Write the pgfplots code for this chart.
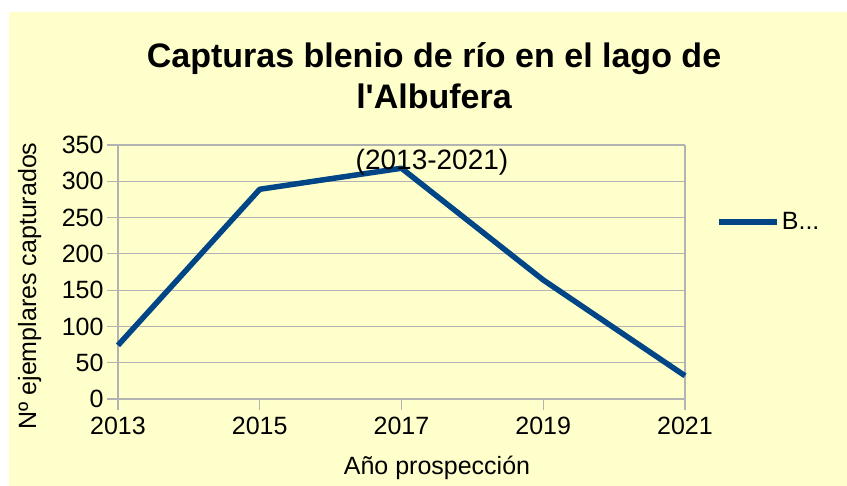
\documentclass[border=0pt]{standalone}
\usepackage{pgfplots}
\pgfplotsset{compat=1.18}
\usepackage{fontspec}
\setmainfont{Liberation Sans}
\newfontfamily\plainfont{Liberation Sans}
\definecolor{bgyellow}{RGB}{255,255,204}
\definecolor{series}{RGB}{0,69,134}
\definecolor{gridgray}{RGB}{179,179,179}
\begin{document}
\begin{tikzpicture}[x=1pt,y=1pt]
\fill[white] (0,0) rectangle (847,486);
\fill[bgyellow] (9,0) rectangle (847,474);
\begin{axis}[
  at={(118pt,87pt)}, anchor=south west,
  scale only axis, width=567pt, height=254pt,
  xmin=2013, xmax=2021, ymin=0, ymax=350,
  xtick={2013,2015,2017,2019,2021},
  ytick={0,50,...,350},
  xtick pos=bottom, ytick pos=left,
  tick align=outside,
  major tick length=11pt,
  tick style={gridgray, line width=1.2pt},
  axis line style={draw=none},
  ymajorgrids,
  grid style={gridgray, line width=1.2pt},
  /pgf/number format/assume math mode=true,
  /pgf/number format/1000 sep={},
  tick label style={font=\fontsize{25}{30}\selectfont, text=black},
  xticklabel style={yshift=-4pt},
  clip=false,
  legend style={at={(1.055,0.697)}, anchor=west, draw=none, fill=none,
    inner sep=0pt, font=\fontsize{25}{30}\selectfont,
    /tikz/every even column/.append style={column sep=0pt}},
  legend cell align=left,
  legend image code/.code={\draw[#1] (0pt,0pt) -- (58pt,0pt);},
]
\draw[gridgray, line width=1.2pt] (rel axis cs:0,0) -- (rel axis cs:0,1);
\draw[gridgray, line width=1.2pt] (rel axis cs:1,0) -- (rel axis cs:1,1);
\addplot[series, line width=5.5pt, line join=round] coordinates {
  (2013,74) (2015,289) (2017,318) (2019,164) (2021,32)
};
\addlegendentry{B...}
\end{axis}
\node[anchor=base, font=\plainfont\fontsize{34}{40}\selectfont\bfseries] at (434,418) {Capturas blenio de río en el lago de};
\node[anchor=base, font=\plainfont\fontsize{34}{40}\selectfont\bfseries] at (434,377) {l'Albufera};
\node[anchor=base, font=\fontsize{28}{34}\selectfont] at (432,316) {(2013-2021)};
\node[anchor=base, font=\fontsize{25}{30}\selectfont] at (437,11) {Año prospección};
\node[anchor=base, rotate=90, font=\fontsize{25}{30}\selectfont] at (36,200) {Nº ejemplares capturados};
\end{tikzpicture}
\end{document}
